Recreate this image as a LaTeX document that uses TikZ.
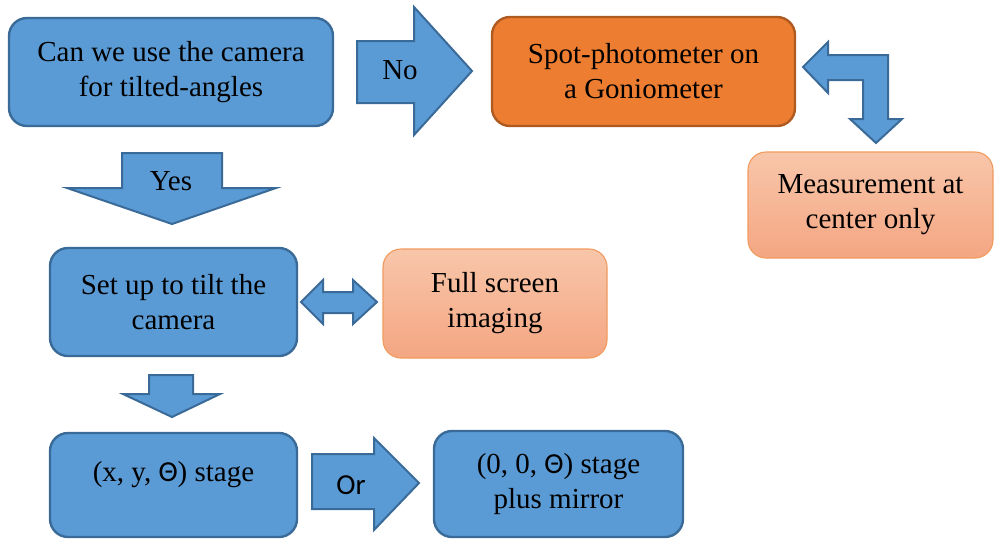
\documentclass[tikz,border=0pt]{standalone}
\usepackage{fontspec}
\setmainfont{Liberation Serif}
\newfontfamily\calibfont{Carlito}
\usepackage{tikz}
\usetikzlibrary{
  positioning,
  backgrounds
}
\definecolor{boxblue}{HTML}{5B9BD5}
\definecolor{lineblue}{HTML}{3A6A98}
\definecolor{boxorange}{HTML}{ED7D31}
\definecolor{lineorange}{HTML}{AE5A21}
\definecolor{paletop}{HTML}{F8C6AA}
\definecolor{palebottom}{HTML}{F4A682}
\definecolor{paleline}{HTML}{F19A5E}
\newcommand{\thet}{{\calibfont Θ}}

\begin{document}
\begin{tikzpicture}[
      x=1pt,y=-1pt,
      font=\fontsize{29}{35}\selectfont,
      bluebox/.style={
         rectangle,
         rounded corners=18pt,
         line width=2.4pt,
         draw=lineblue,
         fill=boxblue,
         align=center
      },
      orangebox/.style={
         bluebox,
         draw=lineorange,
         fill=boxorange
      },
      palebox/.style={
         rectangle,
         rounded corners=18pt,
         line width=1.1pt,
         draw=paleline,
         top color=paletop,
         bottom color=palebottom,
         align=center
      },
      blockarrow/.style={
         line width=2pt,
         line join=miter,
         draw=lineblue,
         fill=boxblue
      },
      arrowtext/.style={inner sep=0pt}
    ]
    \useasboundingbox (0,0) rectangle (995,539);
    % boxes
    \node (camq) [bluebox, minimum width=324pt, minimum height=108pt] at (171,72)
       {Can we use the camera\\for tilted-angles};
    \node (spot) [orangebox, minimum width=303pt, minimum height=109pt] at (643.5,71.5)
       {Spot-photometer on\\a Goniometer};
    \node (meas) [palebox, minimum width=245pt, minimum height=106pt] at (870.5,205)
       {Measurement at\\center only};
    \node (setup) [bluebox, minimum width=247pt, minimum height=108pt] at (173.5,302)
       {Set up to tilt the\\camera};
    \node (full) [palebox, minimum width=224pt, minimum height=109pt] at (495,303.5)
       {Full screen\\imaging};
    \node (xyt) [bluebox, minimum width=247pt, minimum height=104pt] at (173.5,485)
       {\raisebox{10pt}[\height][\depth]{(x, y, \thet) stage}};
    \node (mirror) [bluebox, minimum width=249pt, minimum height=106pt] at (558.5,484)
       {(0, 0, \thet) stage\\plus mirror};
    % block arrows
    \draw[blockarrow] (357,41) -- (414,41) -- (414,7) -- (472,71)
       -- (414,135) -- (414,103) -- (357,103) -- cycle;
    \node (no) [arrowtext] at (400,70) {No};
    \draw[blockarrow] (122,153) -- (222,153) -- (222,188) -- (276,188)
       -- (172,224) -- (67,188) -- (122,188) -- cycle;
    \node (yes) [arrowtext] at (171,181) {Yes};
    \draw[blockarrow] (149,375) -- (193,375) -- (193,394) -- (220,394)
       -- (172,417) -- (123,394) -- (149,394) -- cycle;
    \draw[blockarrow] (312,454) -- (374,454) -- (374,438) -- (419,483)
       -- (374,530) -- (374,509) -- (312,509) -- cycle;
    \node (or) [arrowtext, font=\calibfont\fontsize{29}{35}\selectfont] at (351,485) {Or};
    \draw[blockarrow] (301,302) -- (323,280) -- (323,292) -- (353,292) -- (353,280)
       -- (377,302) -- (353,324) -- (353,313) -- (323,313) -- (323,324) -- cycle;
    \draw[blockarrow] (803,67) -- (828,42) -- (828,55) -- (888,55) -- (888,119)
       -- (902,119) -- (876,143) -- (850,119) -- (863,119) -- (863,80)
       -- (828,80) -- (828,93) -- cycle;
\end{tikzpicture}
\end{document}
